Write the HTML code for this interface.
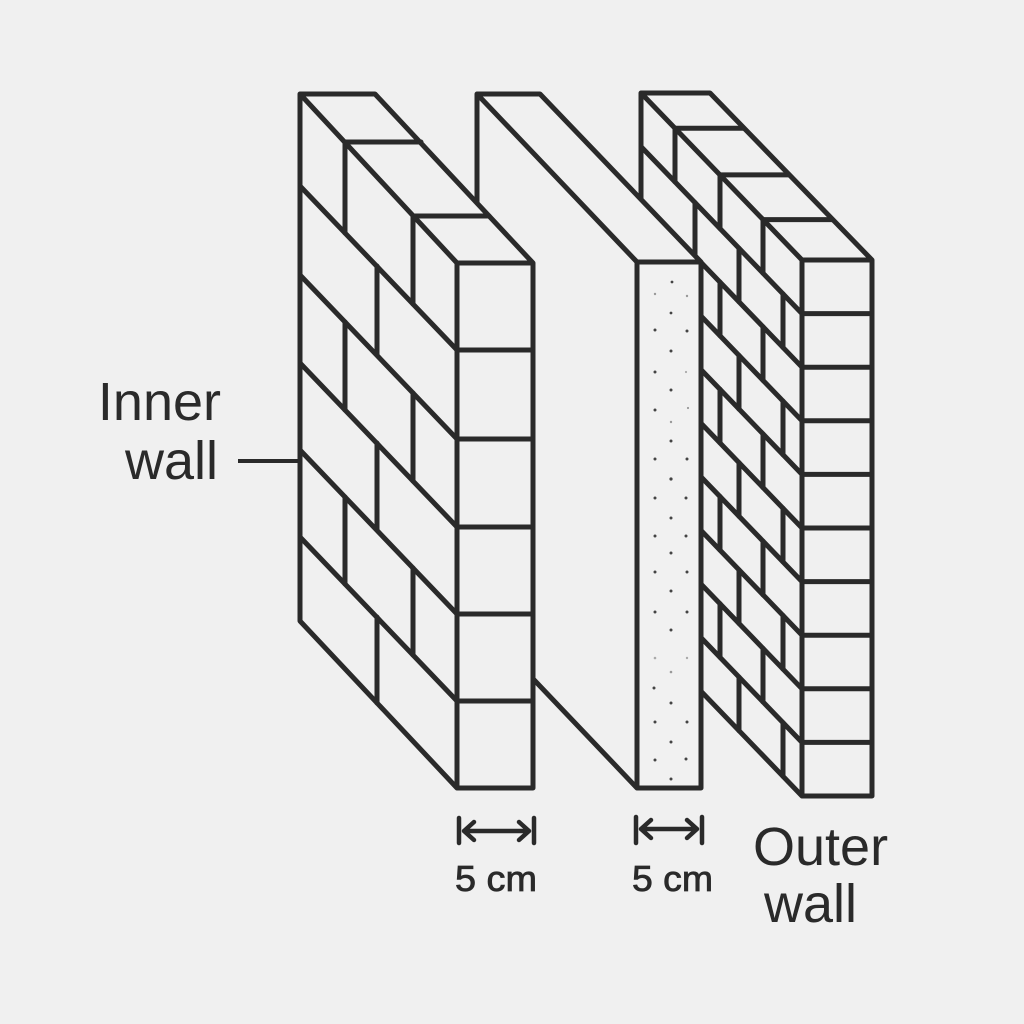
<!DOCTYPE html>
<html>
<head>
<meta charset="utf-8">
<style>
html,body{margin:0;padding:0;background:#f0f0f0;}
svg{display:block;}
text{font-family:"Liberation Sans",Arial,sans-serif;fill:#2a2a2a;}
</style>
</head>
<body>
<svg width="1024" height="1024" viewBox="0 0 1024 1024" xmlns="http://www.w3.org/2000/svg">
<rect width="1024" height="1024" fill="#f0f0f0"/>

<!-- ============ OUTER WALL (back) ============ -->
<g stroke="#2a2a2a" stroke-width="5" stroke-linejoin="round" stroke-linecap="round" fill="#f0f0f0">
  <polygon points="641,93 710,93 872,260 872,796 802,796 641,629" stroke="none"/>
  <path fill="none" d="M675,128.3 H744 M720,174.9 H789 M763,219.6 H832"/>
  <path fill="none" d="
    M641,146.6 L802,313.6
    M641,200.2 L802,367.2
    M641,253.8 L802,420.8
    M641,307.4 L802,474.4
    M641,361 L802,528
    M641,414.6 L802,581.6
    M641,468.2 L802,635.2
    M641,521.8 L802,688.8
    M641,575.4 L802,742.4"/>
  <path fill="none" d="
    M675,128.3 V181.9 M720,174.9 V228.5 M763,219.6 V273.2
    M695,202.6 V256.2 M739,248.3 V301.9 M783,293.9 V347.5
    M675,235.5 V289.1 M720,282.1 V335.7 M763,326.8 V380.4
    M695,309.8 V363.4 M739,355.5 V409.1 M783,401.1 V454.7
    M675,342.7 V396.3 M720,389.3 V442.9 M763,434 V487.6
    M695,417 V470.6 M739,462.7 V516.3 M783,508.3 V561.9
    M675,449.9 V503.5 M720,496.5 V550.1 M763,541.2 V594.8
    M695,524.2 V577.8 M739,569.9 V623.5 M783,615.5 V669.1
    M675,557.1 V610.7 M720,603.7 V657.3 M763,648.4 V702
    M695,631.4 V685 M739,677.1 V730.7 M783,722.7 V776.3"/>
  <path fill="none" d="
    M802,313.6 H872 M802,367.2 H872 M802,420.8 H872 M802,474.4 H872
    M802,528 H872 M802,581.6 H872 M802,635.2 H872 M802,688.8 H872 M802,742.4 H872"/>
  <path fill="none" d="M641,93 H710 L872,260 V796 H802 L641,629 Z M641,93 L802,260 H872 M802,260 V796"/>
</g>

<!-- ============ INSULATION PANEL (middle) ============ -->
<g stroke="#2a2a2a" stroke-width="5" stroke-linejoin="round" stroke-linecap="round">
  <polygon points="477,94 540,94 701,262 701,788 637,788 477,620" fill="#f0f0f0" stroke="none"/>
  <rect x="637" y="262" width="64" height="526" fill="#f1f1f1" stroke="none"/>
  <path fill="none" d="M477,94 H540 L701,262 V788 H637 L477,620 Z M477,94 L637,262 H701 M637,262 V788"/>
</g>
<g fill="#444">
  <circle cx="672" cy="282" r="1.4"/>
  <circle cx="655" cy="294" r="1.2" fill="#999"/><circle cx="687" cy="296" r="1.2" fill="#999"/>
  <circle cx="671" cy="313" r="1.4"/>
  <circle cx="655" cy="330" r="1.5"/><circle cx="687" cy="331" r="1.5"/>
  <circle cx="671" cy="351" r="1.5"/>
  <circle cx="655" cy="372" r="1.5"/><circle cx="686" cy="372" r="1.1" fill="#aaa"/>
  <circle cx="671" cy="390" r="1.5"/>
  <circle cx="655" cy="410" r="1.5"/><circle cx="688" cy="408" r="1.1" fill="#999"/>
  <circle cx="671" cy="422" r="1.2" fill="#999"/>
  <circle cx="671" cy="441" r="1.5"/>
  <circle cx="655" cy="459" r="1.5"/><circle cx="687" cy="459" r="1.5"/>
  <circle cx="671" cy="479" r="1.6"/>
  <circle cx="655" cy="498" r="1.5"/><circle cx="686" cy="498" r="1.5"/>
  <circle cx="671" cy="518" r="1.5"/>
  <circle cx="655" cy="536" r="1.5"/><circle cx="686" cy="536" r="1.5"/>
  <circle cx="671" cy="553" r="1.5"/>
  <circle cx="655" cy="572" r="1.5"/><circle cx="687" cy="572" r="1.5"/>
  <circle cx="671" cy="591" r="1.5"/>
  <circle cx="655" cy="612" r="1.5"/><circle cx="687" cy="612" r="1.5"/>
  <circle cx="671" cy="630" r="1.5"/>
  <circle cx="655" cy="658" r="1.3" fill="#aaa"/><circle cx="687" cy="658" r="1.2" fill="#aaa"/>
  <circle cx="671" cy="672" r="1.3" fill="#999"/>
  <circle cx="654" cy="688" r="1.5"/>
  <circle cx="671" cy="703" r="1.5"/>
  <circle cx="655" cy="722" r="1.5"/><circle cx="687" cy="722" r="1.5"/>
  <circle cx="671" cy="742" r="1.5"/>
  <circle cx="655" cy="760" r="1.5"/><circle cx="686" cy="759" r="1.5"/>
  <circle cx="671" cy="779" r="1.5"/>
</g>

<!-- ============ INNER WALL (front) ============ -->
<g stroke="#2a2a2a" stroke-width="5" stroke-linejoin="round" stroke-linecap="round" fill="#f0f0f0">
  <polygon points="300,94 375,94 533,263 533,788 457,788 300,621" stroke="none"/>
  <path fill="none" d="M345,142 H421 M413,216 H489"/>
  <path fill="none" d="
    M300,186 L457,350
    M300,275 L457,439
    M300,363 L457,527
    M300,450 L457,614
    M300,537 L457,701"/>
  <path fill="none" d="
    M345,142 V233 M413,216 V304
    M377,266 V355
    M345,322 V410 M413,393 V481
    M377,443 V530
    M345,497 V584 M413,568 V655
    M377,617 V703"/>
  <path fill="none" d="M457,350 H533 M457,439 H533 M457,527 H533 M457,614 H533 M457,701 H533"/>
  <path fill="none" d="M300,94 H375 L533,263 V788 H457 L300,621 Z M300,94 L457,263 H533 M457,263 V788"/>
</g>

<!-- leader line -->
<path d="M238,461 H300" stroke="#2a2a2a" stroke-width="4"/>

<!-- dimension arrows -->
<g stroke="#2a2a2a" stroke-width="4.5" fill="none" stroke-linecap="round" stroke-linejoin="round">
  <path d="M459,818 V843 M534,818 V843 M464,831 H529 M474,822 L464,831 L474,840 M519,822 L529,831 L519,840"/>
  <path d="M636,817 V843 M702,817 V843 M641,829 H697 M651,820 L641,829 L651,838 M687,820 L697,829 L687,838"/>
</g>

<!-- labels -->
<text x="221" y="420" font-size="54" text-anchor="end">Inner</text>
<text x="218" y="479" font-size="54" text-anchor="end">wall</text>
<text x="753" y="865" font-size="54">Outer</text>
<text x="764" y="922" font-size="54">wall</text>
<text x="455" y="891" font-size="36" textLength="82" lengthAdjust="spacingAndGlyphs" stroke="#2a2a2a" stroke-width="0.8">5 cm</text>
<text x="632" y="891" font-size="36" textLength="81" lengthAdjust="spacingAndGlyphs" stroke="#2a2a2a" stroke-width="0.8">5 cm</text>
</svg>
</body>
</html>
